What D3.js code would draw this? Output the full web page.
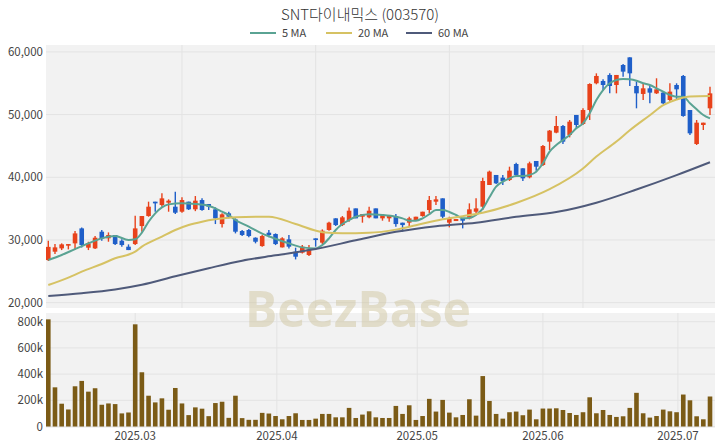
<!DOCTYPE html>
<html><head><meta charset="utf-8">
<script src="https://cdn.jsdelivr.net/npm/d3@7"></script>
<style>html,body{margin:0;padding:0;background:#fff;}svg{display:block;font-family:"Noto Sans CJK KR","Noto Sans",sans-serif;}</style>
</head><body><svg id="c" width="720" height="448"></svg>
<script>
const title = "SNT다이내믹스 (003570)";
const open  = [26800,28130,28660,29090,29460,31850,28770,28660,31320,30260,30790,29880,28930,29350,32220,33820,36110,35580,35950,35310,34510,36110,34890,36370,35740,34890,32540,34250,33290,31430,31590,30360,29030,31160,30950,28820,30100,28130,27970,27600,30260,29570,31590,33450,32380,33180,35040,33710,33610,35040,33450,33450,33820,32760,32760,33180,33820,34780,36110,36640,32760,33020,33450,33450,34510,35310,38770,40370,39940,39570,42120,41430,39990,42600,41960,45680,47120,48180,46750,49940,48500,50730,54990,55360,56320,54720,57910,59130,54560,53290,54190,53390,53500,52330,54720,56160,50730,45310,48340,51000];
const high  = [29880,29350,29460,29350,31430,32010,29720,30630,31590,31210,30790,30100,29300,33870,33820,36110,36110,37440,36480,37700,36800,36110,37010,36640,35740,35200,34250,34510,33450,31590,31750,30420,30790,31590,31050,30420,30790,28770,29190,29190,30260,31690,32920,33450,33820,35200,35040,34140,35310,35040,33980,33980,34140,32760,33710,33710,34510,37010,37010,36640,33710,33340,33450,35840,36640,39940,41060,40370,40370,41690,42330,41430,42490,42600,45150,47540,49780,48340,49140,49940,51000,54990,56580,55630,56580,56320,58070,59130,55250,54880,54720,55790,53660,54990,54990,56320,50730,49140,48710,54450];
const low   = [26650,27760,28390,28500,28500,28820,28390,28550,29880,29720,29190,28930,28390,29190,31320,33710,34510,35310,34510,34140,34350,34780,34600,34670,34780,32540,32010,33450,31050,30630,30420,29460,28930,30420,29190,28820,28660,26900,27860,27440,28930,29350,31480,32220,32220,32920,33450,32760,33450,33450,33080,32920,32120,31320,32220,33180,33710,34250,35580,33450,32010,33020,31850,33290,34250,34780,38770,38930,38770,39410,40100,39410,39830,41060,41800,44350,47010,45310,46370,47810,48340,49140,54830,53820,53390,53390,56050,54560,51000,52330,51800,53290,51690,52060,52330,49670,46750,45150,47540,49940];
const close = [28900,28820,29300,29350,31050,29190,29460,30360,30260,30790,29350,29190,28390,31850,33820,35310,35840,36640,36270,34350,36370,34890,36270,34780,35310,33450,34090,33710,31320,30790,30630,29720,30630,30790,29350,30260,28930,27330,28930,28500,29990,31480,32760,32380,33610,34670,33450,34140,34670,33450,33980,33980,32540,32380,33450,33710,34510,36370,36480,33710,33450,33340,33080,34890,35040,39410,40900,39040,39410,41060,40370,39830,42230,41690,44990,47440,48180,45680,48870,48340,50730,54880,56160,54720,54560,56320,56850,56580,53390,54190,53500,54030,51800,53660,54030,49780,47010,48710,48710,53390];
const volume = [818000,299000,174000,130000,307000,348000,266000,292000,166000,176000,171000,100000,107000,780000,414000,235000,184000,215000,128000,294000,176000,87000,146000,136000,79000,179000,189000,66000,235000,64000,51000,51000,104000,99000,80000,55000,80000,101000,50000,50000,60000,96000,96000,70000,70000,142000,65000,91000,116000,70000,65000,65000,157000,96000,162000,50000,80000,211000,114000,203000,106000,70000,88000,208000,83000,385000,195000,96000,60000,109000,114000,86000,129000,55000,137000,137000,139000,126000,103000,88000,109000,223000,101000,126000,88000,73000,78000,142000,257000,101000,68000,80000,129000,116000,109000,244000,200000,78000,55000,229000];

// moving averages (day index, value)
const ma5Day = [0,2,4,6,8,10,12,13,14,15,16,17,18,20,22,24,25,26,27,28,30,32,34,36,38,40,41,42,43,44,45,46,48,50,52,53,54,55,56,57,58,59,60,61,62,63,64,65,66,67,68,69,70,71,72,73,74,75,76,77,78,79,80,81,82,83,84,85,86,87,88,89,90,91,92,93,94,95,96,97,98,99];
const ma5 = [26800,27600,28550,29460,30250,30630,30000,30100,31160,32900,34250,35200,35680,35840,35740,35420,35040,34510,33980,33180,32120,31000,30200,29460,28820,28660,29190,30260,31590,32540,33180,33710,34100,33980,33710,33450,33080,33080,33450,34100,34780,34780,34460,33980,33450,33500,33980,35000,36800,38500,39300,39830,40200,40200,40370,40900,42230,44090,45150,45950,46750,47810,48610,50200,52330,53920,54990,55520,55680,55630,55410,54990,54720,54190,53660,53130,52860,52860,51800,50840,49940,49400];
const ma20Day = [0,3,5,8,10,13,14,17,19,21,23,25,28,33,37,41,44,48,52,55,59,62,65,70,75,80,82,85,87,90,92,94,96,99];
const ma20 = [22820,24000,24940,26170,27080,28130,28930,30530,31590,32390,32920,33300,33620,33710,32550,31250,31070,31150,31650,32350,33300,33800,34350,35900,38100,41400,43300,45700,47500,49900,51500,52400,52900,52970];
const ma60Day = [0,5,10,14,19,24,29,34,40,46,52,58,64,70,76,82,88,94,99];
const ma60 = [21070,21500,22100,22850,24200,25500,26700,27550,28550,29950,31300,32200,32750,33700,34450,35950,38050,40350,42400];

const priceTicks = [20000,30000,40000,50000,60000];
const volTicks = [0,200000,400000,600000,800000];
const volTickLabels = ["0","200k","400k","600k","800k"];
const monthLabels = ["2025.03","2025.04","2025.05","2025.06","2025.07"];
const monthPos = [13,34.2,55.2,74,94.2];
const priceGridDays = [20,40,60,80];

const upColor = "#e8421b", downColor = "#1f5fc9";
const maColors = ["#5aa393","#d6c263","#4f5a7a"];
const maNames = ["5 MA","20 MA","60 MA"];

const svg = d3.select("#c");
const P = {x0:46, x1:715, y0:45, y1:308};
const V = {x0:46, x1:715, y0:313, y1:428};

const x = d3.scaleLinear().domain([0,99]).range([48.3,710]);
const y = d3.scaleLinear().domain([19150,61100]).range([P.y1,P.y0]);
const yv = d3.scaleLinear().domain([0,800000]).range([426.5,321.7]);

// backgrounds
svg.append("rect").attr("x",P.x0).attr("y",P.y0).attr("width",P.x1-P.x0).attr("height",P.y1-P.y0).attr("fill","#f2f2f2");
svg.append("rect").attr("x",V.x0).attr("y",V.y0).attr("width",V.x1-V.x0).attr("height",V.y1-V.y0).attr("fill","#f2f2f2");

const grid = "#e3e3e3";
svg.append("g").selectAll("line").data(priceTicks).join("line")
  .attr("x1",P.x0).attr("x2",P.x1).attr("y1",d=>y(d)).attr("y2",d=>y(d)).attr("stroke",grid).attr("stroke-width",1);
svg.append("g").selectAll("line").data(priceGridDays).join("line")
  .attr("x1",d=>x(d)).attr("x2",d=>x(d)).attr("y1",P.y0).attr("y2",P.y1).attr("stroke",grid).attr("stroke-width",1);
svg.append("g").selectAll("line").data(volTicks).join("line")
  .attr("x1",V.x0).attr("x2",V.x1).attr("y1",d=>yv(d)).attr("y2",d=>yv(d)).attr("stroke",grid).attr("stroke-width",1);
svg.append("g").selectAll("line").data(monthPos).join("line")
  .attr("x1",d=>x(d)).attr("x2",d=>x(d)).attr("y1",V.y0).attr("y2",V.y1).attr("stroke",grid).attr("stroke-width",1);

// watermark
svg.append("text").attr("x",358).attr("y",327).attr("text-anchor","middle")
  .attr("font-size",51).attr("font-weight",700).attr("font-family","'Open Sans',sans-serif")
  .attr("textLength",226).attr("lengthAdjust","spacingAndGlyphs")
  .attr("fill","#cfc6a0").attr("fill-opacity",0.5).text("BeezBase");

// axis labels
const lblFont = 11.5, lblColor = "#444";
svg.append("g").selectAll("text").data(priceTicks).join("text")
  .attr("x",43).attr("y",d=>y(d)+4).attr("text-anchor","end").attr("font-size",lblFont).attr("fill",lblColor)
  .text(d=>d3.format(",")(d));
svg.append("g").selectAll("text").data(volTicks).join("text")
  .attr("x",43).attr("y",d=>yv(d)+4).attr("text-anchor","end").attr("font-size",lblFont).attr("fill",lblColor)
  .text((d,i)=>volTickLabels[i]);
svg.append("g").selectAll("text").data(monthPos).join("text")
  .attr("x",d=>x(d)).attr("y",440).attr("text-anchor","middle").attr("font-size",lblFont).attr("fill",lblColor)
  .text((d,i)=>monthLabels[i]);

// volume bars
const bw = 4.6;
svg.append("g").selectAll("rect").data(volume).join("rect")
  .attr("x",(d,i)=>x(i)-bw/2).attr("width",bw)
  .attr("y",d=>Math.max(yv(d),V.y0)).attr("height",d=>yv(0)-Math.max(yv(d),V.y0))
  .attr("fill","#7b5b16");

// candles
const idx = d3.range(open.length);
const cg = svg.append("g");
cg.selectAll("line").data(idx).join("line")
  .attr("x1",i=>x(i)).attr("x2",i=>x(i)).attr("y1",i=>y(high[i])).attr("y2",i=>y(low[i]))
  .attr("stroke",i=>close[i]>=open[i]?upColor:downColor).attr("stroke-width",1.4);
cg.selectAll("rect").data(idx).join("rect")
  .attr("x",i=>x(i)-bw/2).attr("width",bw)
  .attr("y",i=>y(Math.max(open[i],close[i])))
  .attr("height",i=>Math.max(1.2,Math.abs(y(open[i])-y(close[i]))))
  .attr("fill",i=>close[i]>=open[i]?upColor:downColor);

// MA lines
const line = d3.line().x(d=>x(d[0])).y(d=>y(d[1])).curve(d3.curveMonotoneX);
[[ma5Day,ma5],[ma20Day,ma20],[ma60Day,ma60]].forEach((s,k)=>{
  svg.append("path").datum(s[0].map((d,i)=>[d,s[1][i]])).attr("d",line)
    .attr("fill","none").attr("stroke",maColors[k]).attr("stroke-width",2);
});

// title
svg.append("text").attr("x",360).attr("y",20).attr("text-anchor","middle")
  .attr("font-size",15).attr("fill","#333").attr("font-weight",300).text(title);

// legend
const legX = [250,326,406];
const lg = svg.append("g");
maNames.forEach((n,k)=>{
  lg.append("line").attr("x1",legX[k]).attr("x2",legX[k]+26).attr("y1",33).attr("y2",33)
    .attr("stroke",maColors[k]).attr("stroke-width",2);
  lg.append("text").attr("x",legX[k]+32).attr("y",37).attr("font-size",11).attr("fill","#444").text(n);
});
</script></body></html>
